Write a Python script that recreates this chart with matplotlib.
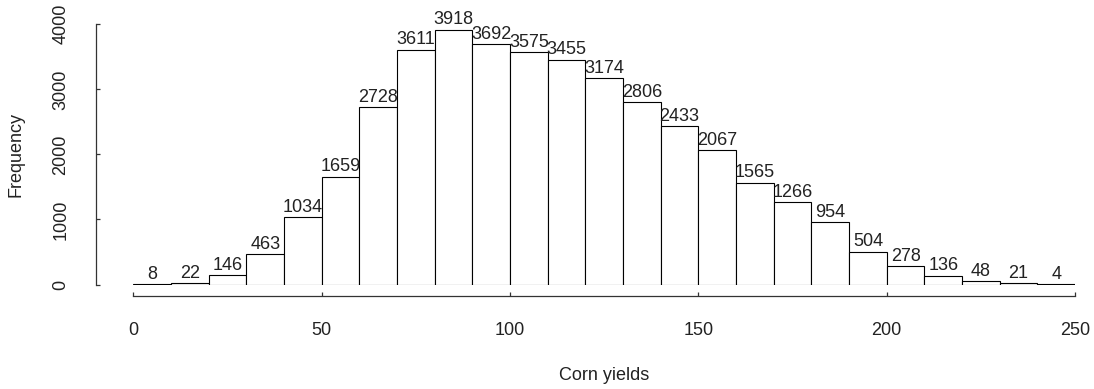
import numpy as np
import matplotlib
matplotlib.use("Agg")
import matplotlib.pyplot as plt

plt.rcParams['font.family'] = ['Liberation Sans', 'DejaVu Sans']

# Histogram of corn yields, 10-unit bins from 0 to 250
bin_edges = list(range(0, 260, 10))
counts = [8, 22, 146, 463, 1034, 1659, 2728, 3611, 3918, 3692, 3575, 3455,
          3174, 2806, 2433, 2067, 1565, 1266, 954, 504, 278, 136, 48, 21, 4]
x_ticks = [0, 50, 100, 150, 200, 250]
y_ticks = [0, 1000, 2000, 3000, 4000]

fig = plt.figure(figsize=(10.94, 3.89), dpi=100)
ax = fig.add_axes([0.1219, 0.2686, 0.8608, 0.6689])

left = np.array(bin_edges[:-1])
widths = np.diff(bin_edges)
ax.bar(left, counts, width=widths, align='edge', color='white',
       edgecolor='black', linewidth=0.8)

for x, w, c in zip(left, widths, counts):
    ax.annotate(str(c), (x + w / 2, c), xytext=(0, 1), textcoords='offset points',
                ha='center', va='bottom', fontsize=13, color='#222222',
                annotation_clip=False)

ax.set_xlim(0, 250)
ax.set_ylim(0, 4000)

for s in ('top', 'right'):
    ax.spines[s].set_visible(False)
ax.spines['bottom'].set_position(('outward', 8.3))
ax.spines['left'].set_position(('outward', 26.9))
ax.spines['bottom'].set_bounds(0, 250)
ax.spines['left'].set_bounds(0, 4000)
for s in ('bottom', 'left'):
    ax.spines[s].set_linewidth(0.9)
    ax.spines[s].set_color('#333333')

ax.set_xticks(x_ticks)
ax.set_yticks(y_ticks)
ax.set_yticklabels([str(v) for v in y_ticks], rotation=90, va='center')
ax.tick_params(axis='both', direction='in', length=3, width=0.9,
               color='#333333', labelsize=13, labelcolor='#222222')
ax.tick_params(axis='x', pad=19)
ax.tick_params(axis='y', pad=19)

ax.set_xlabel('Corn yields', fontsize=13, color='#222222', labelpad=20)
ax.set_ylabel('Frequency', fontsize=13, color='#222222', labelpad=20)

fig.savefig('out.png', dpi=100)
